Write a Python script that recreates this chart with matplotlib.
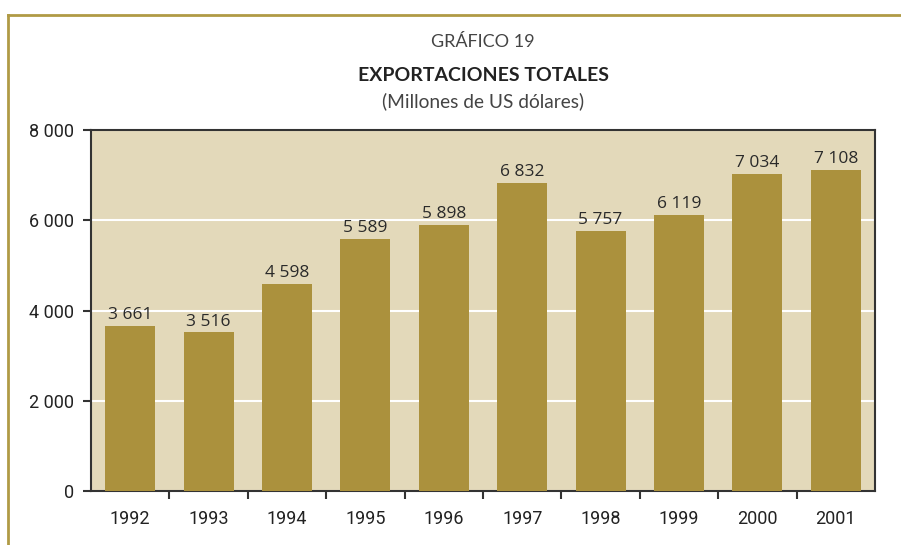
import matplotlib
matplotlib.use("Agg")
import matplotlib.pyplot as plt
from matplotlib.lines import Line2D

years = ["1992", "1993", "1994", "1995", "1996", "1997", "1998", "1999", "2000", "2001"]
exports = [3661, 3516, 4598, 5589, 5898, 6832, 5757, 6119, 7034, 7108]
yticks = [0, 2000, 4000, 6000, 8000]
ytick_labels = ["0", "2 000", "4 000", "6 000", "8 000"]

W, H = 901, 545
fig = plt.figure(figsize=(W / 100, H / 100), dpi=100)
fig.patch.set_facecolor("white")

L, R, T, B = 91, 875, 130, 491
ax = fig.add_axes([L / W, 1 - B / H, (R - L) / W, (B - T) / H])
ax.set_facecolor("#E3D9BA")

bar_color = "#AB913D"
x = list(range(len(years)))
ax.bar(x, exports, width=0.64, color=bar_color, zorder=3)
ax.set_xlim(-0.5, len(years) - 0.5)
ax.set_ylim(0, 8000)

for xi, v in zip(x, exports):
    lbl = f"{v:,}".replace(",", " ")
    ax.annotate(lbl, (xi, v), xytext=(0, 2), textcoords="offset points",
                ha="center", va="bottom", fontsize=12.5, color="#2a2a2a",
                family="Open Sans", zorder=4)

ax.set_yticks(yticks)
ax.set_yticklabels(ytick_labels, fontsize=13, color="#222222", family="Roboto")
ax.yaxis.grid(True, color="white", linewidth=1.5, zorder=1)
ax.set_axisbelow(True)

# x: labels at centres, tick marks at boundaries
ax.set_xticks(x)
ax.set_xticklabels(years, fontsize=13, color="#222222", family="Roboto")
ax.tick_params(axis="x", length=0, pad=14)
ax.set_xticks([i + 0.5 for i in x[:-1]], minor=True)
ax.tick_params(axis="x", which="minor", length=6, width=1.5, color="#333333", direction="out")
ax.tick_params(axis="y", length=6, width=1.5, color="#333333", direction="out", pad=6)

for s in ax.spines.values():
    s.set_color("#333333")
    s.set_linewidth(1.5)

# titles
cx = (L + R) / 2 / W
fig.text(cx, 1 - 42 / H, "GRÁFICO 19", ha="center", va="center", fontsize=13,
         color="#444444", family="Lato")
fig.text(cx, 1 - 75 / H, "EXPORTACIONES TOTALES", ha="center", va="center", fontsize=14,
         color="#222222", family="Lato", fontweight="bold")
fig.text(cx, 1 - 101 / H, "(Millones de US dólares)", ha="center", va="center", fontsize=13.8,
         color="#444444", family="Lato")

# gold border (top and left)
gold = "#B09A45"
fig.add_artist(Line2D([8 / W, 1], [1 - 15 / H, 1 - 15 / H], color=gold, linewidth=2,
                      transform=fig.transFigure))
fig.add_artist(Line2D([8 / W, 8 / W], [1 - 15 / H, 0], color=gold, linewidth=2,
                      transform=fig.transFigure))

fig.savefig("out.png", dpi=100)
